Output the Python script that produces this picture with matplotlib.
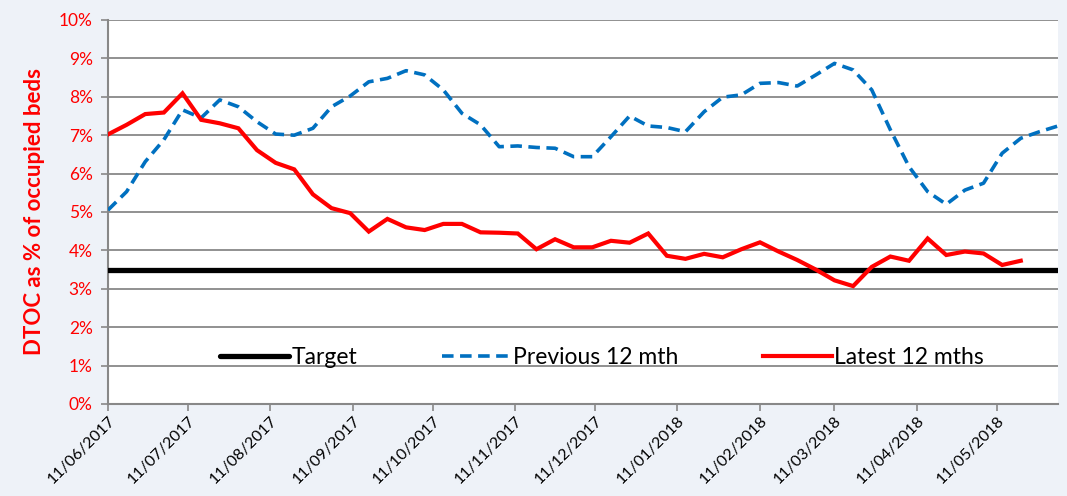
import datetime as dt

import matplotlib
matplotlib.use("Agg")
import matplotlib.pyplot as plt
import matplotlib.dates as mdates
from matplotlib.ticker import MultipleLocator, FuncFormatter

# weekly DTOC rate (% of occupied beds), first week 11/06/2017
START = dt.date(2017, 6, 11)

previous_12 = [
    5.05, 5.53, 6.31, 6.88, 7.66, 7.45, 7.92, 7.74, 7.35, 7.03,
    7.00, 7.18, 7.74, 8.02, 8.39, 8.48, 8.68, 8.57, 8.18, 7.57,
    7.27, 6.70, 6.72, 6.68, 6.66, 6.44, 6.44, 6.96, 7.50, 7.24,
    7.20, 7.09, 7.61, 7.99, 8.05, 8.35, 8.37, 8.28, 8.57, 8.87,
    8.70, 8.18, 7.14, 6.18, 5.53, 5.20, 5.57, 5.75, 6.53, 6.92,
    7.09, 7.24,
]

latest_12 = [
    7.02, 7.27, 7.55, 7.59, 8.09, 7.40, 7.31, 7.18, 6.61, 6.28,
    6.11, 5.46, 5.10, 4.97, 4.49, 4.82, 4.60, 4.53, 4.69, 4.69,
    4.47, 4.46, 4.44, 4.03, 4.29, 4.08, 4.08, 4.25, 4.20, 4.44,
    3.86, 3.78, 3.91, 3.82, 4.03, 4.21, 3.97, 3.75, 3.50, 3.22,
    3.07, 3.57, 3.84, 3.73, 4.31, 3.88, 3.97, 3.92, 3.62, 3.73,
]

TARGET = 3.5

weeks = [START + dt.timedelta(days=7 * i) for i in range(len(previous_12))]
target = [TARGET] * len(weeks)

plt.rcParams["font.family"] = ["Lato", "DejaVu Sans"]

BG = "#eef2f8"
GRID = "#888888"

fig = plt.figure(figsize=(10.67, 4.96), dpi=100, facecolor=BG)
ax = fig.add_axes([0.1012, 0.1855, 0.8904, 0.7742])
ax.set_facecolor("white")

ax.plot(weeks, target, color="black", lw=3.8, solid_capstyle="round",
        label="Target", zorder=3)
ax.plot(weeks, previous_12, color="#0070c0", lw=2.6, ls=(0, (3.2, 1.8)),
        label="Previous 12 mth", zorder=4)
ax.plot(weeks[:len(latest_12)], latest_12, color="#ff0000", lw=3.0,
        solid_joinstyle="miter", label="Latest 12 mths", zorder=5)

ax.set_xlim(weeks[0], weeks[-1])
ax.set_ylim(0, 10)

ax.yaxis.set_major_locator(MultipleLocator(1))
ax.yaxis.set_major_formatter(FuncFormatter(lambda v, _: f"{v:.0f}%"))
ax.grid(axis="y", color=GRID, lw=1.3)
ax.set_axisbelow(True)

ax.xaxis.set_major_locator(mdates.MonthLocator(bymonthday=11))
ax.xaxis.set_major_formatter(mdates.DateFormatter("%d/%m/%Y"))
ax.set_xticks([d for d in ax.get_xticks()
               if mdates.num2date(d).date() < dt.date(2018, 6, 1)])

for s in ("top", "right"):
    ax.spines[s].set_visible(False)
for s in ("left", "bottom"):
    ax.spines[s].set_color(GRID)
    ax.spines[s].set_linewidth(1.5)

ax.tick_params(axis="y", colors=GRID, labelcolor="#ff0000", labelsize=12.5,
               length=5, width=1.2, pad=6)
ax.tick_params(axis="x", colors=GRID, labelcolor="black", labelsize=11.5,
               length=5, width=1.2, pad=2)
for lbl in ax.get_xticklabels():
    lbl.set_rotation(45)
    lbl.set_ha("right")
    lbl.set_rotation_mode("anchor")

ax.set_ylabel("DTOC as % of occupied beds", color="#ff0000",
              fontsize=16, fontweight="bold", labelpad=10)

ax.legend(loc="center", bbox_to_anchor=(0.52, 0.122), ncol=3,
          frameon=False, fontsize=16.5, handlelength=3.0,
          handletextpad=0.1, columnspacing=3.7)

fig.savefig("out.png", dpi=100, facecolor=BG)
